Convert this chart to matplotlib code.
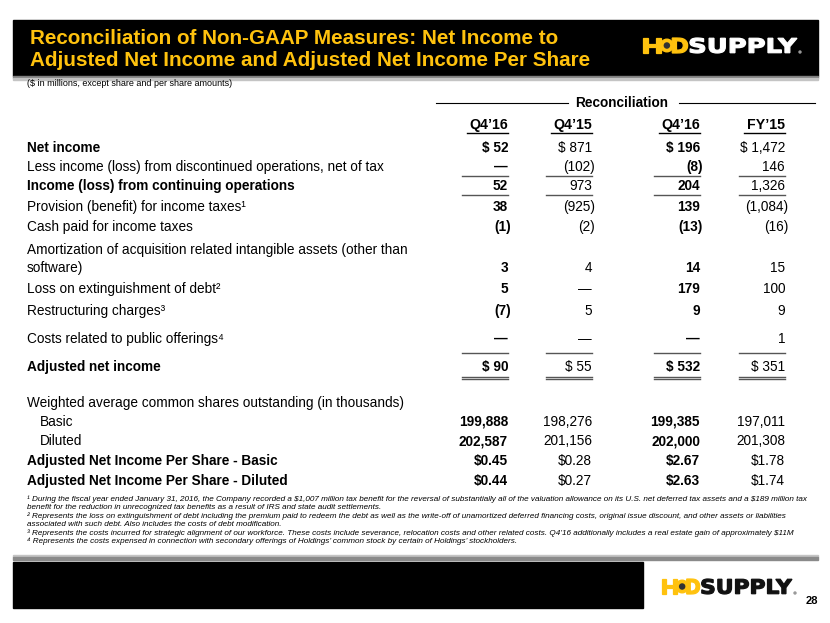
import matplotlib.pyplot as plt
from matplotlib.patches import Rectangle, Circle, PathPatch
from matplotlib.textpath import TextPath
from matplotlib.font_manager import FontProperties
from matplotlib.transforms import Affine2D

# the data
row_labels = [
    'Net income',
    'Less income (loss) from discontinued operations, net of tax',
    'Income (loss) from continuing operations',
    'Provision (benefit) for income taxes\u00b9',
    'Cash paid for income taxes',
    'Amortization of acquisition related intangible assets (other than\nsoftware)',
    'Loss on extinguishment of debt\u00b2',
    'Restructuring charges\u00b3',
    'Costs related to public offerings\u2074',
    'Adjusted net income',
    'Weighted average common shares outstanding (in thousands)',
    'Basic',
    'Diluted',
    'Adjusted Net Income Per Share - Basic',
    'Adjusted Net Income Per Share - Diluted',
]
bold_rows = [0, 2, 9, 13, 14]
indent_rows = [11, 12]
col_heads = ['Q4\u201916', 'Q4\u201915', 'Q4\u201916', 'FY\u201915']
q4_16 = ['$ 52', '\u2014', '52', '38', '(1)', '3', '5', '(7)', '\u2014', '$ 90', '',
         '199,888', '202,587', '$0.45', '$0.44']
q4_15 = ['$ 871', '(102)', '973', '(925)', '(2)', '4', '\u2014', '5', '\u2014', '$ 55', '',
         '198,276', '201,156', '$0.28', '$0.27']
fy_16 = ['$ 196', '(8)', '204', '139', '(13)', '14', '179', '9', '\u2014', '$ 532', '',
         '199,385', '202,000', '$2.67', '$2.63']
fy_15 = ['$ 1,472', '146', '1,326', '(1,084)', '(16)', '15', '100', '9', '1', '$ 351', '',
         '197,011', '201,308', '$1.78', '$1.74']
columns = [q4_16, q4_15, fy_16, fy_15]
bold_cols = [True, False, True, False]

footnotes = [
    '\u00b9 During the fiscal year ended January 31, 2016, the Company recorded a $1,007 million tax benefit for the reversal of substantially all of the valuation allowance on its U.S. net deferred tax assets and a $189 million tax',
    'benefit for the reduction in unrecognized tax benefits as a result of IRS and state audit settlements.',
    '\u00b2 Represents the loss on extinguishment of debt including the premium paid to redeem the debt as well as the write-off of unamortized deferred financing costs, original issue discount, and other assets or liabilities',
    'associated with such debt. Also includes the costs of debt modification.',
    '\u00b3 Represents the costs incurred for strategic alignment of our workforce. These costs include severance, relocation costs and other related costs. Q4\u201916 additionally includes a real estate gain of approximately $11M',
    '\u2074 Represents the costs expensed in connection with secondary offerings of Holdings\u2019 common stock by certain of Holdings\u2019 stockholders.',
]

# layout
row_y = [148, 167, 186, 207, 227, 268, 289, 311, 339, 367, 403, 422, 441, 461, 481]
col_x = [508, 592, 700, 785]
yellow = '#FFC20E'
fam = ['Liberation Sans', 'DejaVu Sans']
fs = 9.8

fig = plt.figure(figsize=(8.3, 6.23), dpi=100)
ax = fig.add_axes([0, 0, 1, 1])
ax.set_xlim(0, 830)
ax.set_ylim(623, 0)
ax.axis('off')


def txt(x, y, s, **kw):
    kw.setdefault('family', fam)
    kw.setdefault('va', 'center')
    return ax.text(x, y, s, parse_math=False, **kw)


def boxed(s, x0, x1, ytop, ybot, color):
    # glyph outlines stretched into a pixel box (logo lettering)
    p = TextPath((0, 0), s, size=10, prop=FontProperties(family='DejaVu Sans', weight='bold'))
    b = p.get_extents()
    sx = (x1 - x0) / b.width
    sy = (ybot - ytop) / b.height
    tr = Affine2D().translate(-b.x0, -b.y0).scale(sx, -sy).translate(x0, ybot)
    ax.add_patch(PathPatch(tr.transform_path(p), facecolor=color, edgecolor=color, lw=0.9))


def logo(x0, x1, ytop, ybot, word_color):
    w = x1 - x0
    h = ybot - ytop
    boxed('H', x0, x0 + w * 0.115, ytop, ybot, yellow)
    cx = x0 + w * 0.155
    ax.add_patch(Circle((cx, (ytop + ybot) / 2), h * 0.42, color=yellow))
    ax.add_patch(Circle((cx, (ytop + ybot) / 2), h * 0.17, color='#333333'))
    boxed('D', x0 + w * 0.19, x0 + w * 0.29, ytop, ybot, yellow)
    boxed('SUPPLY', x0 + w * 0.305, x1, ytop, ybot, word_color)
    ax.add_patch(Circle((x1 + 3, ybot - 1), 1.0, color='#999999'))


# header bar
ax.add_patch(Rectangle((13, 20), 805, 56, color='black'))
ax.add_patch(Rectangle((13, 76), 805, 2, color='#7f7f7f'))
ax.add_patch(Rectangle((13, 78), 805, 2, color='#c4c4c4'))
txt(30, 38, 'Reconciliation of Non-GAAP Measures: Net Income to', color=yellow,
    fontsize=14.85, fontweight='bold')
txt(30, 61, 'Adjusted Net Income and Adjusted Net Income Per Share', color=yellow,
    fontsize=14.85, fontweight='bold')
logo(643, 797, 38, 53, 'white')

txt(27, 84, '($ in millions, except share and per share amounts)', fontsize=6.5)

# reconciliation header
txt(622, 103, 'Reconciliation', fontsize=9.8, fontweight='bold', ha='center')
ax.plot([436, 568], [103, 103], color='black', lw=0.8)
ax.plot([679, 815], [103, 103], color='black', lw=0.8)

for x, head in zip(col_x, col_heads):
    txt(x, 125, head, fontsize=10.2, fontweight='bold', ha='right')
    ax.plot([x - 41, x], [132.5, 132.5], color='black', lw=1.0)

# row labels
for i, (lab, y) in enumerate(zip(row_labels, row_y)):
    x = 40 if i in indent_rows else 27
    if '\n' in lab:
        a, b = lab.split('\n')
        txt(x, y - 18, a, fontsize=fs)
        txt(x, y, b, fontsize=fs)
    else:
        txt(x, y, lab, fontsize=fs, fontweight='bold' if i in bold_rows else 'normal')

# values
for x, vals, b in zip(col_x, columns, bold_cols):
    for i, (v, y) in enumerate(zip(vals, row_y)):
        if not v:
            continue
        dx = 3 if v.endswith(')') else 0
        txt(x + dx, y, v, fontsize=fs, ha='right', fontweight='bold' if b else 'normal')
    # subtotal rules
    for ly in (176, 195, 353):
        ax.plot([x - 46, x], [ly, ly], color='#555555', lw=1.0)
    ax.plot([x - 46, x], [376.5, 376.5], color='#555555', lw=1.0)
    ax.plot([x - 46, x], [379, 379], color='#555555', lw=1.0)

# footnotes
fy = [499, 507.5, 516, 524.5, 533, 541.5]
for y, f in zip(fy, footnotes):
    txt(27, y, f, fontsize=5.9, style='italic')

# footer
ax.add_patch(Rectangle((13, 555), 805, 2, color='#c4c4c4'))
ax.add_patch(Rectangle((13, 557), 805, 3, color='#8a8a8a'))
ax.add_patch(Rectangle((13, 562), 630, 46, color='black'))
logo(662, 792, 579, 594, '#111111')
txt(812, 601, '28', fontsize=8, fontweight='bold', ha='center')

fig.savefig('out.png', dpi=100)
